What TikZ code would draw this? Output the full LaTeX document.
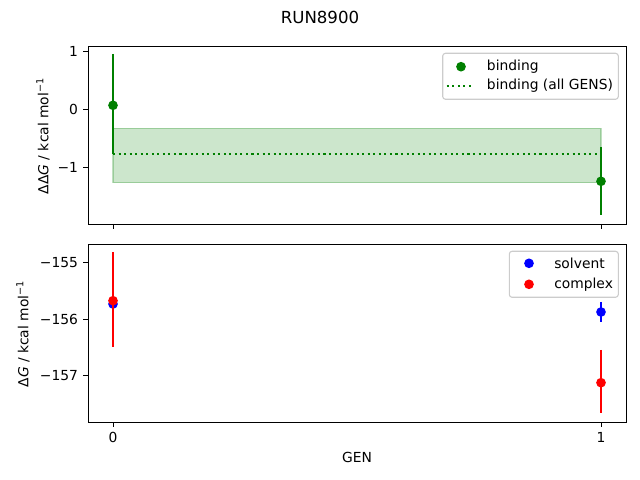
\documentclass[tikz,border=0pt]{standalone}
\usepackage{fontspec}
\setmainfont{DejaVu Sans}
\definecolor{mplgreen}{HTML}{008000}
\definecolor{mplblue}{HTML}{0000FF}
\definecolor{mplred}{HTML}{FF0000}
\begin{document}
\begin{tikzpicture}[x=0.01in, y=-0.01in, font=\fontsize{10}{12}\selectfont,
    frame/.style={draw, line width=0.7pt},
    tickmark/.style={draw, line width=0.7pt},
    ticklabel/.style={inner sep=0pt},
    errbar/.style={line width=1.5pt},
    marker/.style={circle, inner sep=0pt, minimum size=7pt},
    legendbox/.style={draw=black!20, fill=white, fill opacity=0.8, rounded corners=2pt, line width=0.8pt}]
\useasboundingbox (0,0) rectangle (640,480);

\node (title) at (320,17) {\fontsize{12}{14}\selectfont RUN8900};

% top panel: binding free energy
\fill[mplgreen, opacity=0.2] (113,128.3) rectangle (601,182.7);
\draw[mplgreen, opacity=0.25, line width=0.8pt] (113,128.3) rectangle (601,182.7);
\draw[mplgreen, line width=1.5pt, dash pattern=on 1.5pt off 2.5pt] (113,154.3) -- (601,154.3);
\draw[errbar, mplgreen] (113,54) -- (113,154.3);
\draw[errbar, mplgreen] (601,147.3) -- (601,215);
\node[marker, fill=mplgreen] (bind0) at (113,105.3) {};
\node[marker, fill=mplgreen] (bind1) at (601,181.3) {};
\draw[frame] (88,46) rectangle (626,224);
\foreach \v/\y in {1/51.2, 0/109.3, −1/167.4} {
  \draw[tickmark] (88,\y) -- (83.1,\y);
  \node[ticklabel, anchor=east] at (78.3,\y) {\v};
}
\foreach \x in {113,601}
  \draw[tickmark] (\x,224) -- (\x,228.9);
\node[rotate=90] (ylabtop) at (43,136) {ΔΔ\textit{G} / kcal mol\textsuperscript{−1}};

\draw[legendbox] (442.7,53.3) rectangle (618.3,99.3);
\node[marker, fill=mplgreen] (legbind) at (461,66.7) {};
\node[ticklabel, anchor=west] (legbindtxt) at (486.7,66.7) {binding};
\draw[mplgreen, line width=1.5pt, dash pattern=on 1.5pt off 2.5pt] (446.7,86) -- (474.3,86);
\node[ticklabel, anchor=west] (legalltxt) at (486.7,86) {binding (all GENS)};

% bottom panel: solvent and complex legs
\draw[errbar, mplblue] (601,302) -- (601,321.7);
\draw[errbar, mplblue] (113,302) -- (113,306);
\node[marker, fill=mplblue] (solv0) at (113,304) {};
\node[marker, fill=mplblue] (solv1) at (601,312) {};
\draw[errbar, mplred] (113,252) -- (113,346.7);
\draw[errbar, mplred] (601,350) -- (601,413.3);
\node[marker, fill=mplred] (cplx0) at (113,300.7) {};
\node[marker, fill=mplred] (cplx1) at (601,382.7) {};
\draw[frame] (88,244.7) rectangle (626,422.3);
\foreach \v/\y in {−155/262.8, −156/319.1, −157/375.4} {
  \draw[tickmark] (88,\y) -- (83.1,\y);
  \node[ticklabel, anchor=east] at (78.3,\y) {\v};
}
\foreach \v/\x in {0/113, 1/601} {
  \draw[tickmark] (\x,422.3) -- (\x,427.2);
  \node[ticklabel, anchor=north] at (\x,432) {\v};
}
\node (xlab) at (357,457) {GEN};
\node[rotate=90] (ylabbot) at (23,334) {Δ\textit{G} / kcal mol\textsuperscript{−1}};

\draw[legendbox] (509.3,251.3) rectangle (618.3,297.3);
\node[marker, fill=mplblue] (legsolv) at (529,263.3) {};
\node[ticklabel, anchor=west] (legsolvtxt) at (554,263.3) {solvent};
\node[marker, fill=mplred] (legcplx) at (529,284.3) {};
\node[ticklabel, anchor=west] (legcplxtxt) at (554,284.3) {complex};
\end{tikzpicture}
\end{document}
